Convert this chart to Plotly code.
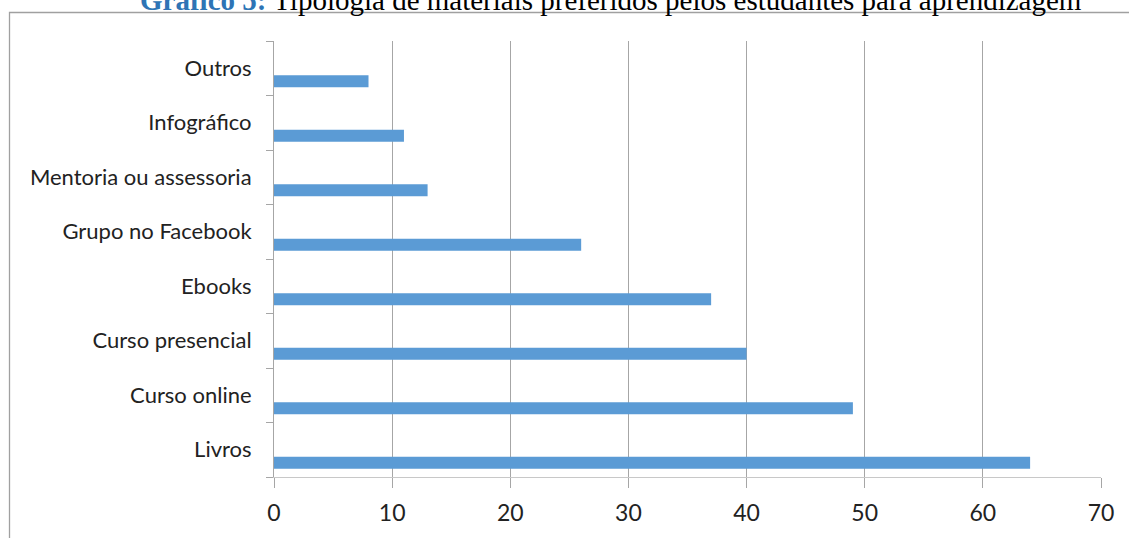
import plotly.graph_objects as go

categories = ["Livros", "Curso online", "Curso presencial", "Ebooks",
              "Grupo no Facebook", "Mentoria ou assessoria", "Infográfico", "Outros"]
values = [64, 49, 40, 37, 26, 13, 11, 8]
x_ticks = [0, 10, 20, 30, 40, 50, 60, 70]

W, H = 1129, 538
L, R, T, B = 274, 1101, 41, 477

def px_x(p):
    return (p - L) / (R - L)

def px_y(p):
    return (B - p) / (B - T)

fig = go.Figure(go.Bar(
    y=categories, x=values, orientation="h",
    marker=dict(color="#5b9bd5", line=dict(width=0)),
    width=0.22, offset=-0.35,
    hoverinfo="x+y",
))

fig.update_layout(
    width=W, height=H,
    margin=dict(l=L, r=W - R, t=T, b=H - B, pad=0),
    plot_bgcolor="white", paper_bgcolor="white",
    showlegend=False,
    font=dict(family="Lato, Open Sans, sans-serif", color="#222222"),
    xaxis=dict(range=[0, 70], tickvals=x_ticks, showgrid=True, gridcolor="#a6a6a6",
               gridwidth=1, zeroline=False, showline=True, linecolor="#c8c8c8",
               ticks="outside", ticklen=10, tickcolor="#a6a6a6",
               tickfont=dict(size=23, color="#222222"), ticklabelstandoff=5),
    yaxis=dict(type="category", categoryorder="array", categoryarray=categories,
               range=[-0.5, 7.5], showgrid=False, zeroline=False, showline=True,
               linecolor="#a6a6a6", ticks="outside", ticklen=7, tickcolor="#a6a6a6",
               tickson="boundaries", tickfont=dict(size=22, color="#222222"),
               ticklabelstandoff=17),
)

# outer frame of the chart area
fig.add_shape(type="rect", xref="paper", yref="paper",
              x0=px_x(9.5), x1=px_x(1160), y0=px_y(580), y1=px_y(12.5),
              line=dict(color="#a0a0a0", width=1.3), fillcolor="rgba(0,0,0,0)", layer="below")

fig.add_annotation(
    xref="paper", yref="paper", x=px_x(611), y=px_y(17.5), xanchor="center", yanchor="bottom",
    showarrow=False,
    text="<b><span style='color:#2e74b5'>Gráfico 5:</span></b> Tipologia de materiais preferidos pelos estudantes para aprendizagem",
    font=dict(family="Liberation Serif, Times New Roman, serif", size=29, color="black"),
)

fig.write_html("out.html", config={"displayModeBar": False},
               post_script="document.body.style.margin='0';")
